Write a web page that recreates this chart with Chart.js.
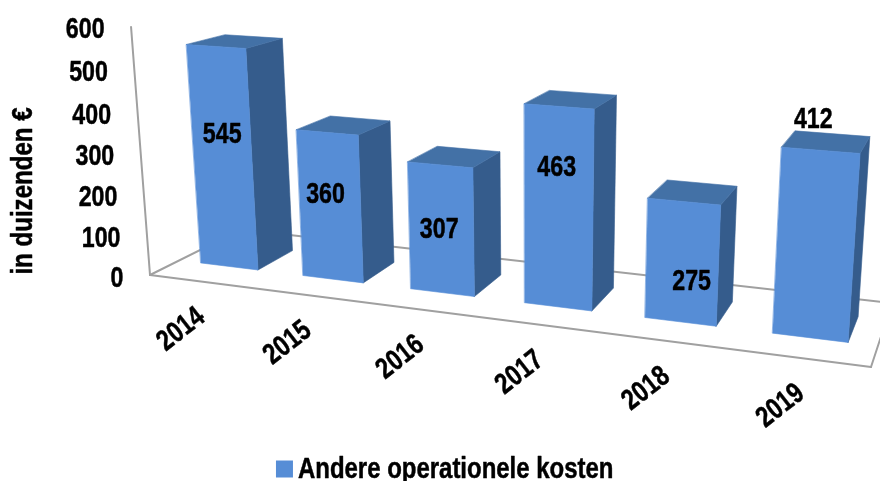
<!DOCTYPE html>
<html>
<head>
<meta charset="utf-8">
<style>html,body{margin:0;padding:0;background:#fff}canvas{display:block}</style>
<script src="https://cdn.jsdelivr.net/npm/chart.js@4"></script>
</head>
<body>
<canvas id="c" width="880" height="481"></canvas>
<script>
const categories = ['2014','2015','2016','2017','2018','2019'];
const values = [545,360,307,463,275,412];
const valueTicks = [0,100,200,300,400,500,600];
const labelHeights = [336,214,157,329,97,480];
const labelShiftX = [1,-4,-2,-2,10,-9];
const seriesName = 'Andere operationele kosten';
const axisTitle = 'in duizenden €';

const FONT = '"Liberation Sans",Arial,sans-serif';
const C_FRONT = '#568dd6', C_TOP = '#4371a6', C_SIDE = '#355c8c', C_AXIS = '#a0a0a0';
const DEPTH_NEAR = 0.30, DEPTH_FAR = 0.71;

// Projective camera: u along category axis, v up value axis, w floor depth
function project(u, v, w) {
  const d = -0.1597*u - 0.047*v + 0.1127*w + 1;
  return [(581.9*u - 25.1*v + 118.2*w + 150)/d, (33.4*u - 249.3*v - 19.6*w + 275)/d];
}
function poly(ctx, pts, fill) {
  ctx.beginPath();
  pts.forEach((p,i)=> i ? ctx.lineTo(p[0],p[1]) : ctx.moveTo(p[0],p[1]));
  ctx.closePath();
  ctx.fillStyle = fill; ctx.fill();
  ctx.strokeStyle = fill; ctx.lineWidth = 0.6; ctx.stroke();
}
function line(ctx, a, b) {
  ctx.beginPath(); ctx.moveTo(a[0],a[1]); ctx.lineTo(b[0],b[1]); ctx.stroke();
}
// narrow bold text: the installed face is condensed horizontally
function text(ctx, str, x, y, align, angle, sx) {
  ctx.save();
  ctx.translate(x, y);
  ctx.rotate((angle||0)*Math.PI/180);
  ctx.scale(sx, 1);
  ctx.fillStyle = '#000';
  ctx.strokeStyle = '#000';
  ctx.lineWidth = 0.5;
  ctx.lineJoin = 'round';
  ctx.font = 'bold 29px ' + FONT;
  ctx.textBaseline = 'middle';
  ctx.textAlign = align;
  ctx.fillText(str, 0, 0);
  ctx.strokeText(str, 0, 0);
  ctx.restore();
}

const perspective = {
  id: 'perspective',
  beforeDatasetDraw(chart, args) {
    const ctx = chart.ctx, area = chart.chartArea;
    const xs = chart.scales.x, ys = chart.scales.y;
    const U = px => (px - area.left) / (area.right - area.left);
    const V = py => (area.bottom - py) / (area.bottom - area.top);
    ctx.save();
    ctx.strokeStyle = C_AXIS; ctx.lineWidth = 2; ctx.lineCap = 'round'; ctx.lineJoin = 'round';
    const P00 = project(0,0,0), P10 = project(1,0,0), P11 = project(1,0,1), P01 = project(0,0,1);
    line(ctx,P01,P00); line(ctx,P00,P10); line(ctx,P10,P11); line(ctx,P11,P01);
    line(ctx,P00,project(0,V(ys.getPixelForValue(600)),0));
    args.meta.data.forEach(el => {
      const u0 = U(el.x - el.width/2), u1 = U(el.x + el.width/2);
      const vt = V(el.y), vb = V(el.base);
      const a=project(u0,vb,DEPTH_NEAR), b=project(u1,vb,DEPTH_NEAR), c=project(u1,vt,DEPTH_NEAR), d=project(u0,vt,DEPTH_NEAR);
      const e=project(u1,vb,DEPTH_FAR), f=project(u1,vt,DEPTH_FAR), g=project(u0,vt,DEPTH_FAR);
      poly(ctx,[b,e,f,c],C_SIDE);
      poly(ctx,[d,c,f,g],C_TOP);
      poly(ctx,[a,b,c,d],C_FRONT);
    });
    valueTicks.forEach(t => {
      const p = project(0,V(ys.getPixelForValue(t)),0);
      text(ctx, String(t), p[0]-26.5, p[1]+3.5, 'right', 0, 0.8);
    });
    categories.forEach((cat,i) => {
      const u = U(xs.getPixelForValue(i));
      const p = project(u,0,0);
      text(ctx, cat, p[0]-20, p[1]+48, 'center', -38, 0.8);
      const q = project(u,V(ys.getPixelForValue(labelHeights[i])),DEPTH_NEAR);
      text(ctx, String(values[i]), q[0]+labelShiftX[i], q[1]+2, 'center', 0, 0.8);
    });
    text(ctx, axisTitle, 24, 191, 'center', -90, 0.83);
    ctx.restore();
    return false;
  },
  afterDraw(chart) {
    const box = chart.legend.legendHitBoxes[0];
    text(chart.ctx, seriesName, box.left + 22, box.top + box.height/2 + 1, 'left', 0, 0.826);
  }
};

new Chart(document.getElementById('c'), {
  type: 'bar',
  data: { labels: categories, datasets: [{ label: seriesName, data: values, backgroundColor: C_FRONT,
    categoryPercentage: 1, barPercentage: 0.565 }] },
  options: {
    responsive: false, animation: false,
    layout: { padding: { left: 17, right: 0, top: 0, bottom: -10 } },
    scales: {
      x: { display: false },
      y: { display: false, min: 0, max: 600 }
    },
    plugins: {
      tooltip: { enabled: false },
      legend: { position: 'bottom',
        labels: { boxWidth: 17, boxHeight: 17, padding: 2, color: 'rgba(0,0,0,0)',
          font: { family: FONT, size: 24, weight: 'bold' } } }
    }
  },
  plugins: [perspective]
});
</script>
</body>
</html>
